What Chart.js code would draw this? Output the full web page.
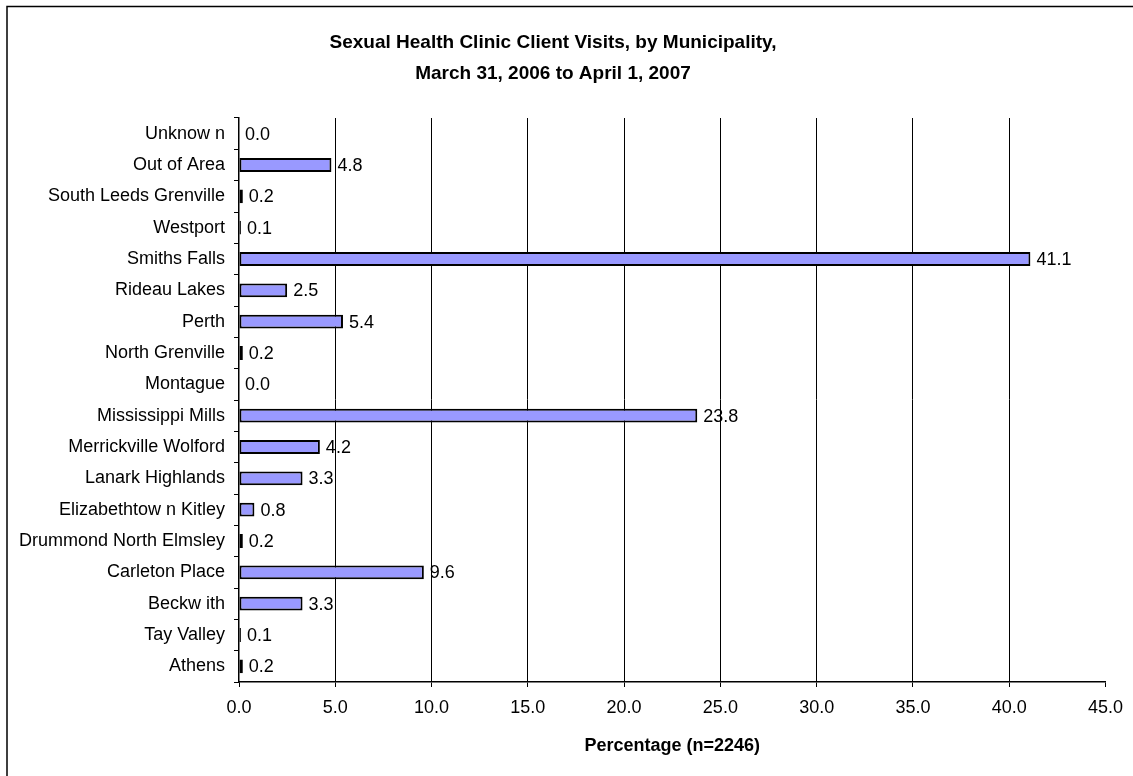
<!DOCTYPE html>
<html lang="en">
<head>
    <meta charset="UTF-8">
    <title>Sexual Health Clinic Client Visits</title>
    <script src="https://cdn.jsdelivr.net/npm/chart.js"></script>
    <style>
        html, body { margin: 0; padding: 0; background: #fff; }
        #box { position: absolute; left: 0; top: 0; width: 1133px; height: 776px; }
    </style>
</head>
<body>
    <div id="box"><canvas id="barra"></canvas></div>

    <script>
        // dados (de cima para baixo)
        var municipios = ['Unknow n', 'Out of Area', 'South Leeds Grenville', 'Westport', 'Smiths Falls',
            'Rideau Lakes', 'Perth', 'North Grenville', 'Montague', 'Mississippi Mills',
            'Merrickville Wolford', 'Lanark Highlands', 'Elizabethtow n Kitley', 'Drummond North Elmsley',
            'Carleton Place', 'Beckw ith', 'Tay Valley', 'Athens']
        var percentuais = [0.0, 4.8, 0.2, 0.1, 41.1, 2.5, 5.4, 0.2, 0.0, 23.8, 4.2, 3.3, 0.8, 0.2, 9.6, 3.3, 0.1, 0.2]
        var ticksX = [0, 5, 10, 15, 20, 25, 30, 35, 40, 45]

        var fonte = 'Arial, "Liberation Sans", sans-serif'

        // moldura (so borda de cima e da esquerda aparecem)
        var moldura = {
            id: 'moldura',
            beforeDraw: function (chart) {
                var c = chart.ctx
                c.save()
                c.strokeStyle = '#000'
                c.lineWidth = 1.5
                c.beginPath()
                c.moveTo(7, 800)
                c.lineTo(7, 6.5)
                c.lineTo(1200, 6.5)
                c.stroke()
                c.restore()
            }
        }

        // rotulos dos valores ao lado das barras
        var rotulos = {
            id: 'rotulos',
            afterDatasetsDraw: function (chart) {
                var c = chart.ctx
                var meta = chart.getDatasetMeta(0)
                c.save()
                c.font = '18px ' + fonte
                c.fillStyle = '#000'
                c.textAlign = 'left'
                c.textBaseline = 'middle'
                meta.data.forEach(function (bar, i) {
                    c.fillText(percentuais[i].toFixed(1), bar.x + 6, bar.y + 1)
                })
                c.restore()
            }
        }

        Chart.defaults.color = '#000'
        Chart.defaults.font.family = fonte

        new Chart(document.getElementById('barra'), {
            type: 'bar',
            data: {
                labels: municipios,
                datasets: [{
                    label: 'Percentage',
                    data: percentuais,
                    backgroundColor: '#9999FF',
                    borderColor: '#000',
                    borderWidth: 2,
                    borderSkipped: false,
                    barPercentage: 0.44,
                    categoryPercentage: 1
                }]
            },
            plugins: [moldura, rotulos],
            options: {
                indexAxis: 'y',
                responsive: true,
                maintainAspectRatio: false,
                animation: false,
                layout: { padding: { top: 0, left: 0, right: 27, bottom: 0 } },
                plugins: {
                    legend: { display: false },
                    tooltip: { enabled: false },
                    title: {
                        display: true,
                        text: ['Sexual Health Clinic Client Visits, by Municipality,', 'March 31, 2006 to April 1, 2007'],
                        color: '#000',
                        font: { size: 19, weight: 'bold', lineHeight: 31 / 19 },
                        padding: { top: 27, bottom: 29 }
                    }
                },
                scales: {
                    x: {
                        min: 0,
                        max: 45,
                        afterBuildTicks: function (scale) {
                            scale.ticks = ticksX.map(function (v) { return { value: v } })
                        },
                        afterFit: function (scale) { scale.height = 94 },
                        ticks: {
                            font: { size: 18 },
                            padding: 10,
                            callback: function (v) { return Number(v).toFixed(1) }
                        },
                        grid: {
                            color: function (ctx) {
                                var v = ctx.tick ? ctx.tick.value : 0
                                return (v > 0 && v < 45) ? '#000' : 'rgba(0,0,0,0)'
                            },
                            lineWidth: 1,
                            tickColor: '#000',
                            tickLength: 5
                        },
                        border: { color: '#000', width: 1.5 },
                        title: {
                            display: true,
                            text: 'Percentage (n=2246)',
                            font: { size: 18, weight: 'bold' },
                            padding: { top: 0, bottom: 19 }
                        }
                    },
                    y: {
                        afterFit: function (scale) { scale.width = 239 },
                        ticks: {
                            font: { size: 18 },
                            padding: 9,
                            autoSkip: false
                        },
                        grid: {
                            drawOnChartArea: false,
                            offset: true,
                            tickColor: '#000',
                            tickLength: 5
                        },
                        border: { color: '#000', width: 1.5 }
                    }
                }
            }
        })
    </script>
</body>
</html>
